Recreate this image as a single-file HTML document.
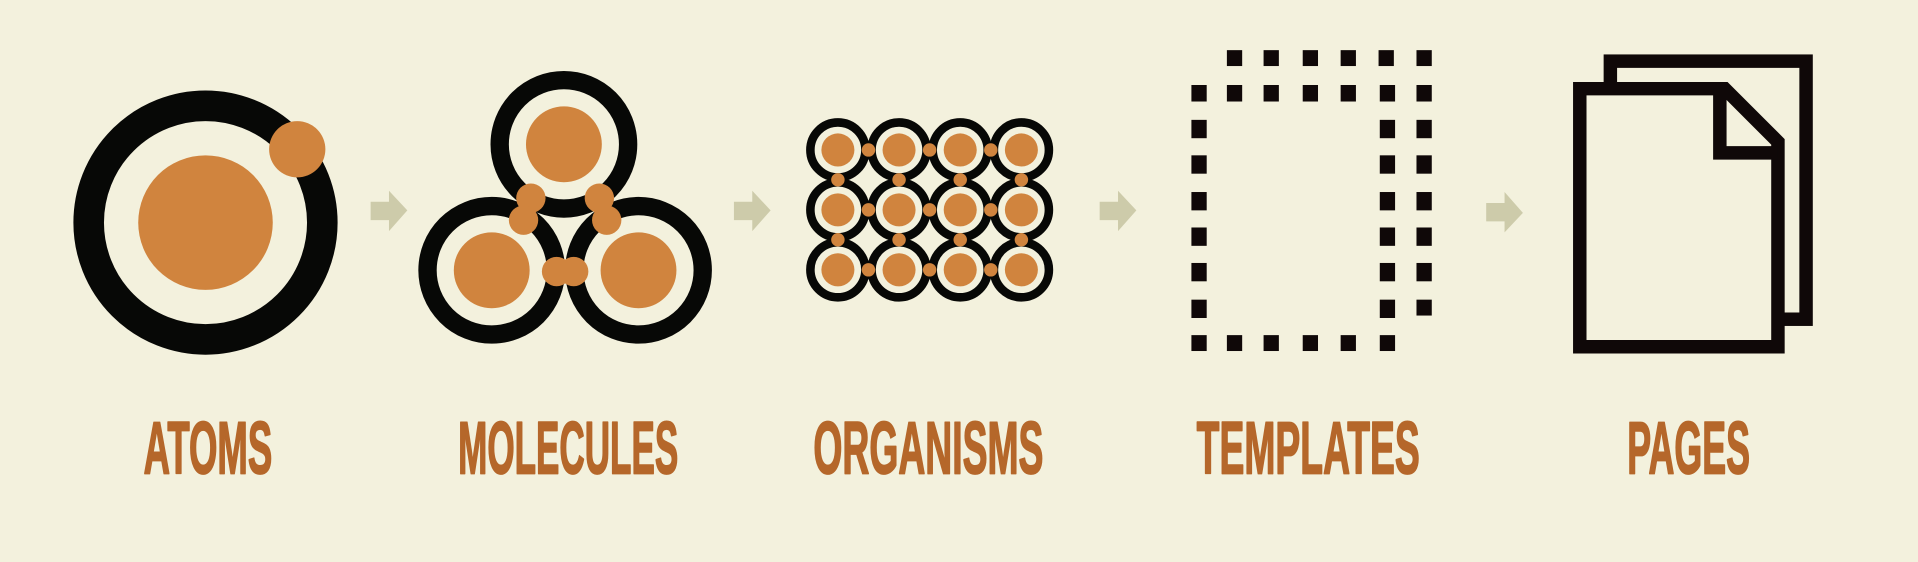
<!DOCTYPE html>
<html><head><meta charset="utf-8"><style>
html,body{margin:0;padding:0;background:#f3f1dd;}
svg{display:block}
</style></head><body>
<svg width="1918" height="562" viewBox="0 0 1568 459.5" preserveAspectRatio="none" xmlns="http://www.w3.org/2000/svg">
<rect width="1568" height="460" fill="#f3f1dd"/>
<!-- Atoms -->
<circle cx="168" cy="182" r="95.5" fill="none" stroke="#070806" stroke-width="25"/>
<circle cx="168" cy="182" r="55" fill="#d0843e"/>
<circle cx="243" cy="122" r="23" fill="#d0843e"/>
<!-- arrows -->
<g fill="#cdcbaa">
<path d="M303 165 H318 V156 L333 172 L318 189 V180 H303 Z"/>
<path d="M600 165 H615 V156 L630 172 L615 189 V180 H600 Z"/>
<path d="M899 165 H914 V156 L929 172 L914 189 V180 H899 Z"/>
<path d="M1215 166 H1230 V157 L1245 174 L1230 190 V181 H1215 Z"/>
</g>
<!-- Molecules -->
<g fill="none" stroke="#070806" stroke-width="15">
<circle cx="461" cy="118" r="52.5"/>
<circle cx="402" cy="221" r="52.5"/>
<circle cx="522" cy="221" r="52.5"/>
</g>
<g fill="#d0843e">
<circle cx="461" cy="118" r="31"/>
<circle cx="402" cy="221" r="31"/>
<circle cx="522" cy="221" r="31"/>
<circle cx="434" cy="162" r="12"/><circle cx="428" cy="180" r="12"/>
<circle cx="490" cy="162" r="12"/><circle cx="496" cy="180" r="12"/>
<circle cx="455" cy="222" r="12"/><circle cx="469" cy="222" r="12"/>
</g>
<!-- Organisms -->
<g fill="#f3f1dd" stroke="#070806" stroke-width="7">
<circle cx="685" cy="122.6" r="22.5"/><circle cx="735" cy="122.6" r="22.5"/><circle cx="785" cy="122.6" r="22.5"/><circle cx="835" cy="122.6" r="22.5"/>
<circle cx="685" cy="171.6" r="22.5"/><circle cx="735" cy="171.6" r="22.5"/><circle cx="785" cy="171.6" r="22.5"/><circle cx="835" cy="171.6" r="22.5"/>
<circle cx="685" cy="220.6" r="22.5"/><circle cx="735" cy="220.6" r="22.5"/><circle cx="785" cy="220.6" r="22.5"/><circle cx="835" cy="220.6" r="22.5"/>
</g>
<g fill="#d0843e">
<circle cx="685" cy="122.6" r="13.5"/><circle cx="735" cy="122.6" r="13.5"/><circle cx="785" cy="122.6" r="13.5"/><circle cx="835" cy="122.6" r="13.5"/>
<circle cx="685" cy="171.6" r="13.5"/><circle cx="735" cy="171.6" r="13.5"/><circle cx="785" cy="171.6" r="13.5"/><circle cx="835" cy="171.6" r="13.5"/>
<circle cx="685" cy="220.6" r="13.5"/><circle cx="735" cy="220.6" r="13.5"/><circle cx="785" cy="220.6" r="13.5"/><circle cx="835" cy="220.6" r="13.5"/>
<circle cx="710" cy="122.6" r="5.5"/><circle cx="760" cy="122.6" r="5.5"/><circle cx="810" cy="122.6" r="5.5"/>
<circle cx="710" cy="171.6" r="5.5"/><circle cx="760" cy="171.6" r="5.5"/><circle cx="810" cy="171.6" r="5.5"/>
<circle cx="710" cy="220.6" r="5.5"/><circle cx="760" cy="220.6" r="5.5"/><circle cx="810" cy="220.6" r="5.5"/>
<circle cx="685" cy="147" r="5.5"/><circle cx="735" cy="147" r="5.5"/><circle cx="785" cy="147" r="5.5"/><circle cx="835" cy="147" r="5.5"/>
<circle cx="685" cy="196" r="5.5"/><circle cx="735" cy="196" r="5.5"/><circle cx="785" cy="196" r="5.5"/><circle cx="835" cy="196" r="5.5"/>
</g>
<!-- Templates -->
<g fill="#0f0808">
<rect x="1003" y="41" width="12.5" height="13"/><rect x="1033" y="41" width="12.5" height="13"/><rect x="1065" y="41" width="12.5" height="13"/><rect x="1096" y="41" width="12.5" height="13"/><rect x="1127" y="41" width="12.5" height="13"/><rect x="1158" y="41" width="12.5" height="13"/>
<rect x="974" y="69.5" width="12.5" height="13.5"/><rect x="1003" y="69.5" width="12.5" height="13.5"/><rect x="1033" y="69.5" width="12.5" height="13.5"/><rect x="1065" y="69.5" width="12.5" height="13.5"/><rect x="1096" y="69.5" width="12.5" height="13.5"/><rect x="1128" y="69.5" width="12.5" height="13.5"/><rect x="1158" y="69.5" width="12.5" height="13.5"/>
<rect x="974" y="98" width="12.5" height="15"/><rect x="974" y="127" width="12.5" height="15"/><rect x="974" y="157" width="12.5" height="15"/><rect x="974" y="186" width="12.5" height="15"/><rect x="974" y="215" width="12.5" height="15"/><rect x="974" y="245" width="12.5" height="15"/>
<rect x="1128" y="98" width="12.5" height="15"/><rect x="1128" y="127" width="12.5" height="15"/><rect x="1128" y="157" width="12.5" height="15"/><rect x="1128" y="186" width="12.5" height="15"/><rect x="1128" y="215" width="12.5" height="15"/><rect x="1128" y="245" width="12.5" height="15"/>
<rect x="1158" y="98" width="12.5" height="15"/><rect x="1158" y="127" width="12.5" height="15"/><rect x="1158" y="157" width="12.5" height="15"/><rect x="1158" y="186" width="12.5" height="15"/><rect x="1158" y="215" width="12.5" height="15"/><rect x="1158" y="245" width="12.5" height="13"/>
<rect x="974" y="274" width="12.5" height="13"/><rect x="1003" y="274" width="12.5" height="13"/><rect x="1033" y="274" width="12.5" height="13"/><rect x="1065" y="274" width="12.5" height="13"/><rect x="1096" y="274" width="12.5" height="13"/><rect x="1128" y="274" width="12.5" height="13"/>
</g>
<!-- Pages -->
<rect x="1316.5" y="50" width="160" height="211" fill="none" stroke="#0f0808" stroke-width="11"/>
<path d="M1291.5 72.5 H1410 L1453.5 116 V283.5 H1291.5 Z" fill="#f3f1dd" stroke="#0f0808" stroke-width="11"/>
<path d="M1406 72.5 V125 H1453.5" fill="none" stroke="#0f0808" stroke-width="11"/>
<!-- Labels -->
<g font-family="'Liberation Sans',sans-serif" font-weight="bold" font-size="61" fill="#b5672a" stroke="#b5672a" stroke-width="1.5" stroke-linejoin="round" text-anchor="middle">
<text transform="translate(170,387) scale(0.49,1)">ATOMS</text>
<text transform="translate(464.5,387) scale(0.47,1)">MOLECULES</text>
<text transform="translate(759,387) scale(0.5,1)">ORGANISMS</text>
<text transform="translate(1069.5,387) scale(0.5,1)">TEMPLATES</text>
<text transform="translate(1380.5,387) scale(0.48,1)">PAGES</text>
</g>
</svg>
</body></html>
